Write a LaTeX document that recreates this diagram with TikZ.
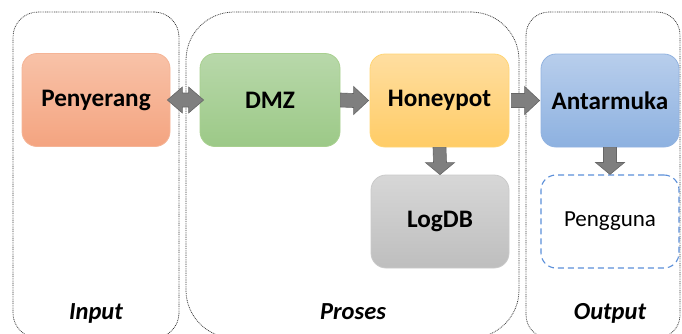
\documentclass[tikz,border=0pt]{standalone}
\usepackage{fontspec}
\setmainfont{Carlito}
\usetikzlibrary{calc}
\definecolor{penT}{HTML}{F8C2A8}
\definecolor{penB}{HTML}{F4A480}
\definecolor{penD}{HTML}{F5B496}
\definecolor{dmzT}{HTML}{B8D8AA}
\definecolor{dmzB}{HTML}{9CC987}
\definecolor{dmzD}{HTML}{A8D08F}
\definecolor{hpT}{HTML}{FFDEA0}
\definecolor{hpB}{HTML}{FFCC66}
\definecolor{hpD}{HTML}{FFD575}
\definecolor{anT}{HTML}{B8CEEC}
\definecolor{anB}{HTML}{8DB1E0}
\definecolor{anD}{HTML}{92B3E0}
\definecolor{lgT}{HTML}{D7D7D7}
\definecolor{lgB}{HTML}{BEBEBE}
\definecolor{lgD}{HTML}{CACACA}
\definecolor{pgD}{HTML}{5B8FD9}
\definecolor{arF}{HTML}{7F7F7F}
\definecolor{arD}{HTML}{666666}
\definecolor{grpD}{HTML}{3A3A3A}
\begin{document}
\begin{tikzpicture}[x=1pt,y=-1pt,
  grp/.style={draw=grpD, line width=0.75pt, dash pattern=on 0.9pt off 0.9pt, minimum height=326, inner sep=0pt},
  card/.style={rounded corners=15, minimum width=139, minimum height=93, inner sep=0pt, line width=0.8pt,
    font=\fontsize{25.2}{28}\selectfont\bfseries},
  blk/.style={fill=arF, draw=arD, line width=0.6pt, line join=miter},
  grplabel/.style={anchor=base, font=\fontsize{24.5}{28}\selectfont\bfseries\itshape}]
\useasboundingbox (0,0) rectangle (682,333);
\clip (0,0) rectangle (682,333);
% groups
\node[grp, minimum width=166, rounded corners=25] (gin) at (96,175) {};
\node[grp, minimum width=333, rounded corners=48] (gpr) at (352.5,175) {};
\node[grp, minimum width=154, rounded corners=23] (gout) at (603,175) {};
% cards
\node[card, minimum width=148, top color=penT, bottom color=penB, draw=penD] (pen) at (96,100) {Penyerang};
\node[card, minimum width=140, top color=dmzT, bottom color=dmzB, draw=dmzD] (dmz) at (270,100) {DMZ};
\node[card, top color=hpT, bottom color=hpB, draw=hpD] (hp) at (439.5,100.5) {Honeypot};
\node[card, minimum width=138, top color=anT, bottom color=anB, draw=anD] (an) at (610,100.5) {Antarmuka};
\node[card, minimum width=138, top color=lgT, bottom color=lgB, draw=lgD] (lg) at (440,221.5) {LogDB};
\node[card, minimum width=138, draw=pgD, fill=white, line width=1.1pt, dash pattern=on 6pt off 4pt,
  font=\fontsize{23}{26}\selectfont] (pg) at (610,221.5) {Pengguna};
% block arrows
\coordinate (dl) at ($(pen.east)+(-3,0)$);
\coordinate (dr) at ($(dmz.west)+(4,0)$);
\draw[blk] (dl) -- ($(dl)+(15,-13)$) -- ($(dl)+(15,-7)$) -- ($(dr)+(-15,-7)$) -- ($(dr)+(-15,-13)$) -- (dr)
  -- ($(dr)+(-15,13)$) -- ($(dr)+(-15,7)$) -- ($(dl)+(15,7)$) -- ($(dl)+(15,13)$) -- cycle;
\draw[blk] ($(dmz.east)+(0,-7)$) -- ($(hp.west)+(-16,-7)$) -- ($(hp.west)+(-16,-14)$) -- ($(hp.west)+(-1,0)$)
  -- ($(hp.west)+(-16,14)$) -- ($(hp.west)+(-16,7)$) -- ($(dmz.east)+(0,7)$) -- cycle;
\draw[blk] ($(hp.east)+(2,-7)$) -- ($(an.west)+(-16,-7)$) -- ($(an.west)+(-16,-14)$) -- ($(an.west)+(-1,0)$)
  -- ($(an.west)+(-16,14)$) -- ($(an.west)+(-16,7)$) -- ($(hp.east)+(2,7)$) -- cycle;
\draw[blk] ($(hp.south)+(-6.5,0)$) -- ($(lg.north)+(-6.5,-12)$) -- ($(lg.north)+(-14.5,-12)$) -- (lg.north)
  -- ($(lg.north)+(14.5,-12)$) -- ($(lg.north)+(6.5,-12)$) -- ($(hp.south)+(6.5,0)$) -- cycle;
\draw[blk] ($(an.south)+(-6.5,0)$) -- ($(pg.north)+(-6.5,-12)$) -- ($(pg.north)+(-14.5,-12)$) -- (pg.north)
  -- ($(pg.north)+(14.5,-12)$) -- ($(pg.north)+(6.5,-12)$) -- ($(an.south)+(6.5,0)$) -- cycle;
% captions
\node[grplabel] (cin) at (96,319) {Input};
\node[grplabel] (cpr) at (353,319) {Proses};
\node[grplabel] (cout) at (610,319) {Output};
\end{tikzpicture}
\end{document}
